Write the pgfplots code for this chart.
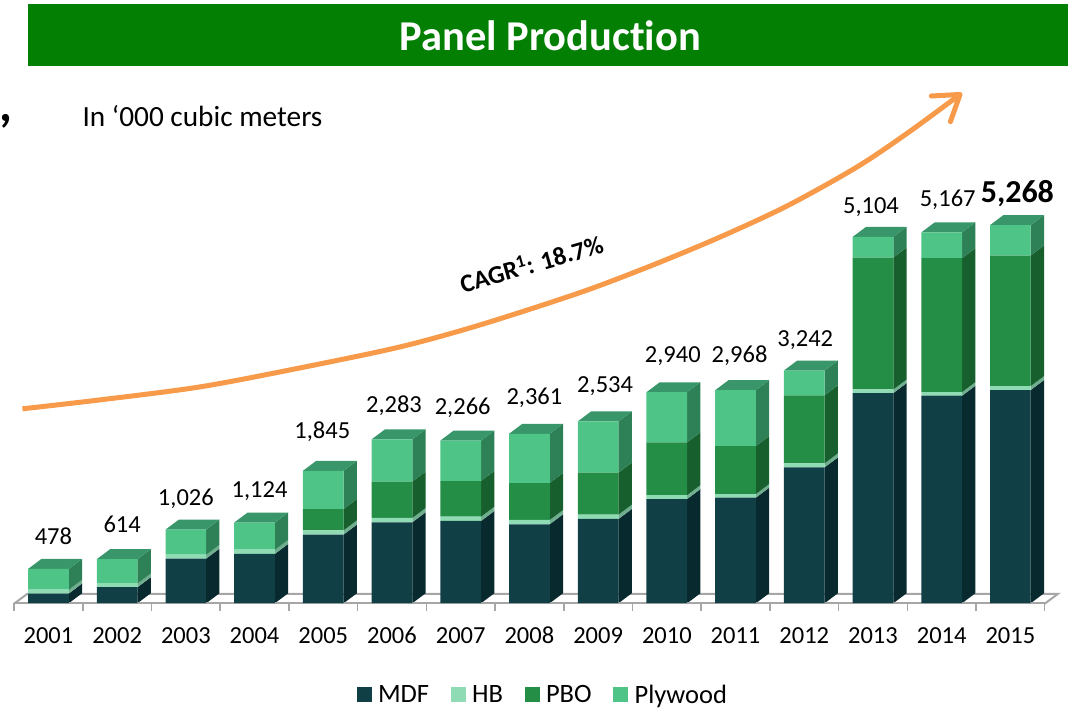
\documentclass[border=0pt]{standalone}
\usepackage{fontspec}
\setmainfont[Ligatures=CommonOff]{Carlito}
\usepackage{pgfplots}
\usepackage{pgfplotstable}
\pgfplotsset{compat=1.18}
\usetikzlibrary{arrows.meta}
\definecolor{cMDF}{HTML}{113F46}
\definecolor{cHB}{HTML}{8FDBB3}
\definecolor{cPBO}{HTML}{248E47}
\definecolor{cPLY}{HTML}{4EC587}
\definecolor{sMDF}{HTML}{08292D}
\definecolor{sHB}{HTML}{6FAE8E}
\definecolor{sPBO}{HTML}{175F2D}
\definecolor{sPLY}{HTML}{2E8156}
\definecolor{tPLY}{HTML}{38966A}
\definecolor{hdr}{HTML}{037F03}
\definecolor{arrowc}{HTML}{F79A4A}
\definecolor{floorc}{HTML}{A6A6A6}
\pgfplotstableread{
x  mdf  hb pbo  ply
0  135  56 0    287
1  223  56 0    335
2  622  56 0    348
3  687  60 0    377
4  956  60 297  532
5  1128 60 506  589
6  1146 60 496  564
7  1100 60 515  686
8  1174 60 585  715
9  1452 56 733  699
10 1471 51 668  778
11 1893 56 947  346
12 2928 51 1837 288
13 2891 51 1865 360
14 2970 56 1819 423
}\paneldata
\pgfplotstableread{
x  total dx dy   label
0  478   5  32.5 478
1  614   5  34.7 614
2  1026  0  31.1 1,026
3  1124  5  31.1 1,124
4  1845  -1 39.3 1,845
5  2283  2  33.9 2,283
6  2266  2  33.1 2,266
7  2361  5  36.3 2,361
8  2534  7  34.9 2,534
9  2940  6  35.7 2,940
10 2968  4  34.7 2,968
11 3242  1  30   3,242
12 5104  -2 30.3 5,104
13 5167  6  32.8 5,167
}\totals
\pgfplotstableread{
x  total dx dy   label
14 5268  7  31.3 5,268
}\lasttotal
\begin{document}
\begin{tikzpicture}[x=1pt,y=1pt]
\path (0,0) rectangle (1068,708);
% page furniture, in image pixels
\begin{axis}[at={(0pt,0pt)},anchor=south west,scale only axis,width=1068pt,height=708pt,
  xmin=0,xmax=1068,ymin=0,ymax=708,y dir=reverse,hide axis,clip=false]
\fill[hdr] (axis cs:28,4) rectangle (axis cs:1068,66);
\node[text=white,font=\fontsize{42.5}{42.5}\selectfont\bfseries] at (axis cs:550,36) {Panel Production};
\node[font=\fontsize{29.3}{29.3}\selectfont,anchor=west,inner sep=0pt] at (axis cs:82,116) {In ‘000 cubic meters};
\node[font=\fontsize{50}{50}\selectfont\bfseries,inner sep=0pt,anchor=base] at (axis cs:6,122) {,};
\node[rotate=16,font=\fontsize{25.5}{25.5}\selectfont\bfseries] at (axis cs:531,263) {CAGR\textsuperscript{1}: 18.7\%};
\addplot[floorc,line width=2pt,forget plot] coordinates {(13.6,604)(27,594)(1058,594)(1044.7,604)};
\addplot[arrowc,line width=5pt,smooth,-{Straight Barb[length=24pt,width=32pt,line width=5pt,round]}] coordinates
 {(22,409)(100,400)(200,387)(300,368)(400,347)(480,325)(579,293)(648,267)(718,238)(787,206)(857,167)(909,132)(962,93)};
\end{axis}
% side and top faces, labels
\begin{axis}[at={(13.63pt,104.5pt)},anchor=south west,scale only axis,width=1031.1pt,height=603.5pt,
  xmin=-0.5,xmax=14.5,ymin=0,ymax=8405,hide axis,clip=false]
\pgfplotsinvokeforeach{0,...,14}{
  \pgfplotstablegetelem{#1}{mdf}\of\paneldata \pgfmathsetmacro\ya{\pgfplotsretval}
  \pgfplotstablegetelem{#1}{hb}\of\paneldata \pgfmathsetmacro\yb{\ya+\pgfplotsretval}
  \pgfplotstablegetelem{#1}{pbo}\of\paneldata \pgfmathsetmacro\yc{\yb+\pgfplotsretval}
  \pgfplotstablegetelem{#1}{ply}\of\paneldata \pgfmathsetmacro\yd{\yc+\pgfplotsretval}
  \pgfmathsetmacro\xr{#1+0.296}
  \pgfmathsetmacro\xl{#1-0.296}
  \pgfmathsetmacro\xrb{\xr+0.1935}
  \pgfmathsetmacro\xlb{\xl+0.1935}
  \pgfmathsetmacro\yab{\ya+139}
  \pgfmathsetmacro\ybb{\yb+139}
  \pgfmathsetmacro\ycb{\yc+139}
  \pgfmathsetmacro\ydb{\yd+139}
  \edef\faces{
  \noexpand\addplot[fill=sMDF,draw=none,forget plot] coordinates {(\xr,0)(\xrb,139)(\xrb,\yab)(\xr,\ya)} -- cycle;
  \noexpand\addplot[fill=sHB,draw=none,forget plot] coordinates {(\xr,\ya)(\xrb,\yab)(\xrb,\ybb)(\xr,\yb)} -- cycle;
  \noexpand\addplot[fill=sPBO,draw=none,forget plot] coordinates {(\xr,\yb)(\xrb,\ybb)(\xrb,\ycb)(\xr,\yc)} -- cycle;
  \noexpand\addplot[fill=sPLY,draw=none,forget plot] coordinates {(\xr,\yc)(\xrb,\ycb)(\xrb,\ydb)(\xr,\yd)} -- cycle;
  \noexpand\addplot[fill=tPLY,draw=none,forget plot] coordinates {(\xl,\yd)(\xr,\yd)(\xrb,\ydb)(\xlb,\ydb)} -- cycle;
  }\faces
}
\addplot[draw=none,mark=none,forget plot,
  visualization depends on={\thisrow{dx}\as\dx},
  visualization depends on={\thisrow{dy}\as\dy},
  point meta=explicit symbolic,
  nodes near coords,
  nodes near coords style={anchor=center,inner sep=0pt,xshift=\dx pt,yshift=\dy pt,
    font=\fontsize{24.5}{24.5}\selectfont,text=black}]
  table[x=x,y=total,meta=label]{\totals};
\addplot[draw=none,mark=none,forget plot,
  visualization depends on={\thisrow{dx}\as\dx},
  visualization depends on={\thisrow{dy}\as\dy},
  point meta=explicit symbolic,
  nodes near coords,
  nodes near coords style={anchor=center,inner sep=0pt,xshift=\dx pt,yshift=\dy pt,
    font=\fontsize{32}{32}\selectfont\bfseries,text=black}]
  table[x=x,y=total,meta=label]{\lasttotal};
\end{axis}
% stacked front faces
\begin{axis}[at={(13.63pt,104.5pt)},anchor=south west,scale only axis,width=1031.1pt,height=603.5pt,
  ybar stacked,bar width=40.7pt,
  xmin=-0.5,xmax=14.5,ymin=0,ymax=8405,clip=false,
  axis y line=none,axis x line=bottom,
  x axis line style={-,floorc,line width=2pt},
  xtick={0,...,14},
  xticklabels={2001,2002,2003,2004,2005,2006,2007,2008,2009,2010,2011,2012,2013,2014,2015},
  minor xtick={-0.5,0.5,...,14.5},
  major tick length=0pt,minor tick length=8pt,
  tick align=outside,
  tick style={floorc,line width=1.5pt},
  xticklabel style={anchor=center,inner sep=0pt,yshift=-32pt,font=\fontsize{24.5}{24.5}\selectfont},
  legend columns=4,
  legend image code/.code={\fill[#1] (0pt,-7.5pt) rectangle (15pt,7.5pt);},
  legend style={at={(0.513,-0.1515)},anchor=center,draw=none,fill=none,
    font=\fontsize{26.5}{26.5}\selectfont,inner sep=0pt,
    /tikz/every odd column/.append style={column sep=4.5pt},
    /tikz/every even column/.append style={column sep=19.5pt}},
  ]
\addplot[fill=cMDF,draw=none] table[x=x,y=mdf]{\paneldata};
\addlegendentry{MDF}
\addplot[fill=cHB,draw=none] table[x=x,y=hb]{\paneldata};
\addlegendentry{HB}
\addplot[fill=cPBO,draw=none] table[x=x,y=pbo]{\paneldata};
\addlegendentry{PBO}
\addplot[fill=cPLY,draw=none] table[x=x,y=ply]{\paneldata};
\addlegendentry{Plywood}
\end{axis}
\end{tikzpicture}
\end{document}
